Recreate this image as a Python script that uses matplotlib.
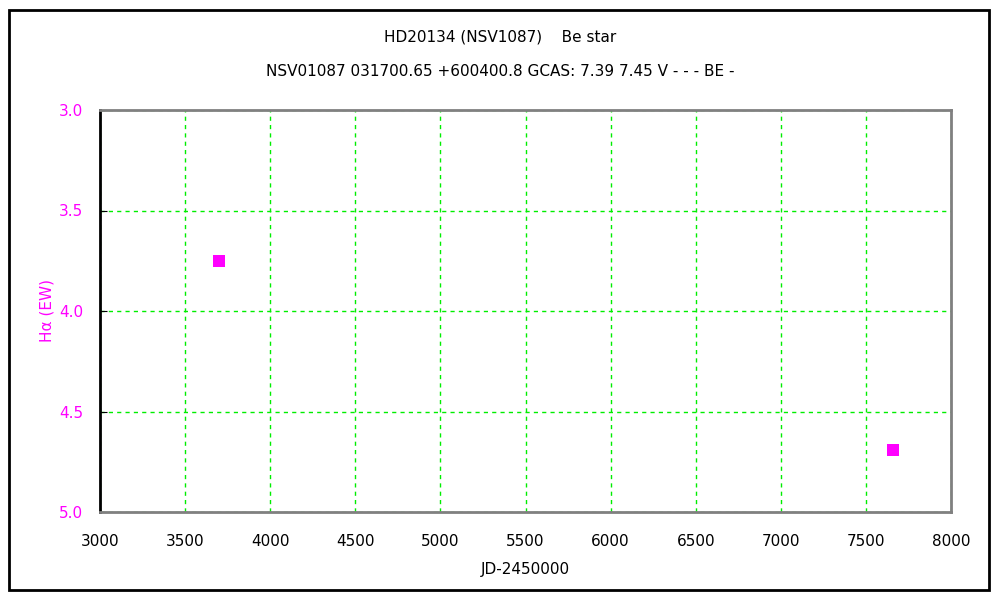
import matplotlib
matplotlib.use("Agg")
import matplotlib.pyplot as plt
from matplotlib.patches import Rectangle

jd = [3700, 7659]
ew = [3.75, 4.69]
x_ticks = [3000, 3500, 4000, 4500, 5000, 5500, 6000, 6500, 7000, 7500, 8000]
y_ticks = [3.0, 3.5, 4.0, 4.5, 5.0]

plt.rcParams["font.family"] = ["DejaVu Sans"]

fig = plt.figure(figsize=(10, 6), dpi=100)
# plot area in the reference: x 100..951 px, y 110..512 px
ax = fig.add_axes([0.100, 1 - 512 / 600, 0.851, 402 / 600])

# outer frame
fig.patches.append(Rectangle((0.009, 0.016), 0.980, 0.967, transform=fig.transFigure,
                             fill=False, edgecolor="black", linewidth=2))

ax.scatter(jd, ew, marker="s", s=80, color="#ff00ff", zorder=3, linewidths=0)

ax.set_xlim(3000, 8000)
ax.set_ylim(5.0, 3.0)
ax.set_xticks(x_ticks)
ax.set_yticks(y_ticks)
ax.set_yticklabels([f"{v:.1f}" for v in y_ticks], color="#ff00ff")
ax.tick_params(axis="x", length=0, labelsize=11, pad=16)
ax.tick_params(axis="y", direction="in", length=5, color="black", labelsize=11, pad=12)
ax.grid(True, color="#00ee00", linestyle=(0, (3, 3)), linewidth=1)

for side in ["top", "right", "bottom"]:
    ax.spines[side].set_color("#808080")
    ax.spines[side].set_linewidth(2)
ax.spines["left"].set_color("black")
ax.spines["left"].set_linewidth(2)

ax.set_xlabel("JD-2450000", fontsize=11, labelpad=9)
ax.set_ylabel("H\u03b1 (EW)", fontsize=11, color="#ff00ff", labelpad=3)

fig.text(0.5, 1 - 37 / 600, "HD20134 (NSV1087)    Be star", ha="center", va="center", fontsize=11)
fig.text(0.5, 1 - 72 / 600, "NSV01087 031700.65 +600400.8 GCAS: 7.39 7.45 V - - - BE -",
         ha="center", va="center", fontsize=11)

fig.savefig("out.png", dpi=100)
